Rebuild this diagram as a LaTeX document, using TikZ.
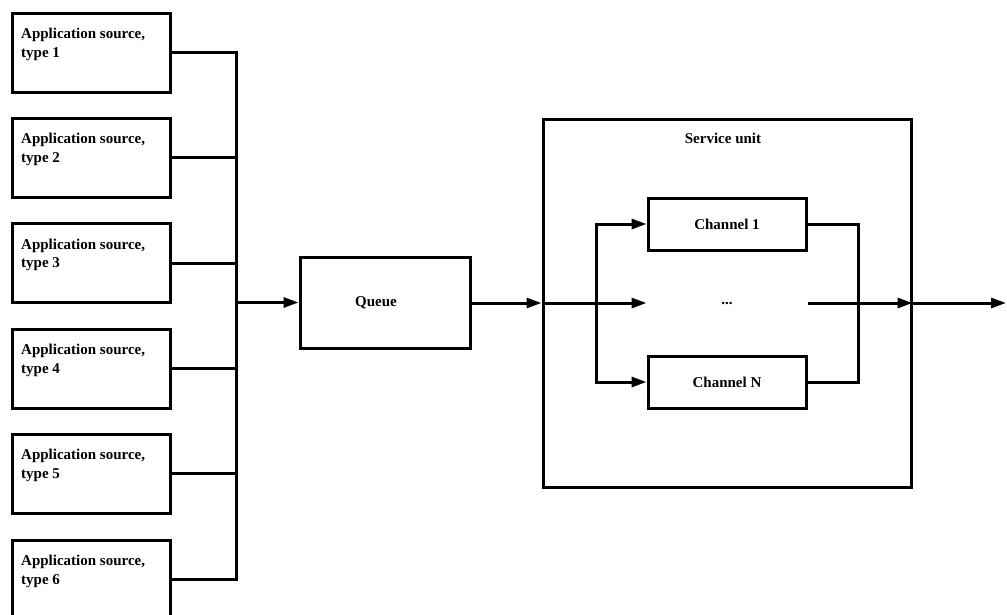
\documentclass[tikz,border=0pt]{standalone}
\usepackage{fontspec}
\setmainfont{Liberation Serif}
\usetikzlibrary{arrows.meta}
\begin{document}
\begin{tikzpicture}[x=1pt,y=-1pt,
  every node/.style={font=\fontsize{15}{18.5}\selectfont\bfseries},
  box/.style={draw, line width=3pt, inner sep=0pt},
  src/.style={box, minimum width=158pt, minimum height=79pt},
  srclbl/.style={anchor=north west, align=left, inner sep=0pt, xshift=10.5pt, yshift=-16.5pt},
  chan/.style={box, minimum width=158pt, minimum height=52pt},
  wire/.style={line width=3pt},
  arr/.style={wire, -{Triangle[length=15pt,width=10pt]}}]
\clip (0,0) rectangle (1007,614);
\fill[white] (0,0) rectangle (1007,614);
% sources
\foreach \i/\y in {1/52.5,2/157.5,3/263,4/368.5,5/473.5,6/579.5}{
  \node[src, label={[srclbl]north west:Application source,\\type \i}] (s\i) at (91,\y) {};
}
\coordinate (bt) at (236,52.5);
\coordinate (bb) at (236,579.5);
\coordinate (j) at (236,302.5);
\draw[wire] (s1.east) -| (bb) -- (s6.east);
\foreach \i in {2,...,5}{ \draw[wire] (s\i.east) -- (s\i.east -| bt); }
% queue
\node[box, minimum width=170pt, minimum height=91pt] (q) at (385,302.5) {};
\node at (376,302.5) {Queue};
\draw[arr] (j) -- (q.west);
% service unit
\node[box, minimum width=368pt, minimum height=368pt] (su) at (727,303) {};
\node (sut) at (723,138) {Service unit};
\node[chan] (c1) at (727,224) {Channel 1};
\node[chan, draw=none] (dots) at (727,303) {...};
\node[chan] (cN) at (727,382) {Channel N};
\coordinate (bx) at (596,303);
\coordinate (rx) at (858,303);
\coordinate (out) at (1006,303);
\draw[arr] (q.east |- su.west) -- (su.west);
\draw[arr] (su.west) -- (dots.west);
\draw[arr] (bx) |- (c1.west);
\draw[arr] (bx) |- (cN.west);
\draw[wire] (c1.east) -| (rx) |- (cN.east);
\draw[arr] (dots.east) -- (su.east);
\draw[arr] (su.east) -- (out);
\end{tikzpicture}
\end{document}
